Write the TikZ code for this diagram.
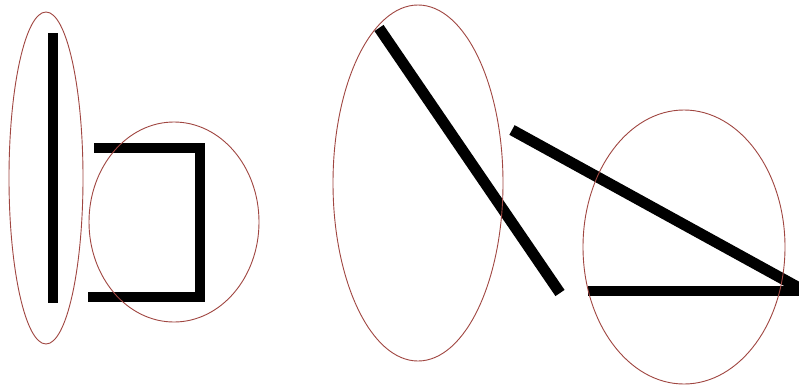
\documentclass[tikz,border=0pt]{standalone}
\usepackage{xcolor}
\usepackage{tikz}
\usetikzlibrary{calc}
\definecolor{ringred}{RGB}{160,70,65}

\begin{document}
\begin{tikzpicture}[x=1pt,y=-1pt,line join=miter]
      \tikzset{stroke/.style={line width=9.5pt,black},ring/.style={ringred,line width=0.9pt}}
      \clip (0,0) rectangle (799,391);
      \fill[white] (0,0) rectangle (799,391);
      % left pair
      \coordinate (P1) at (53,33);
      \coordinate (P2) at (53,303);
      \coordinate (Q1) at (94,148);
      \coordinate (Q2) at (200,148);
      \coordinate (Q3) at (200,297);
      \coordinate (Q4) at (88,297);
      \draw[stroke] (P1)--(P2);
      \draw[stroke] (Q1)--(Q2)--(Q3)--(Q4);
      \draw[ring] (46,178) ellipse [x radius=37,y radius=166];
      \draw[ring] (174,222) ellipse [x radius=85,y radius=100];
      % right pair
      \coordinate (R1) at (379,28);
      \coordinate (R2) at (560,293);
      \coordinate (S1) at (512,130);
      \coordinate (S2) at (812,295);
      \coordinate (T1) at (588,291);
      \coordinate (T2) at (812,291);
      \draw[stroke,line width=11pt] (R1)--(R2);
      \draw[stroke,line width=11pt] (S1)--(S2);
      \draw[stroke] (T1)--(T2);
      \draw[ring] (418,183) ellipse [x radius=85,y radius=178];
      \draw[ring] (684,247) ellipse [x radius=101,y radius=137];
    \end{tikzpicture}
\end{document}
